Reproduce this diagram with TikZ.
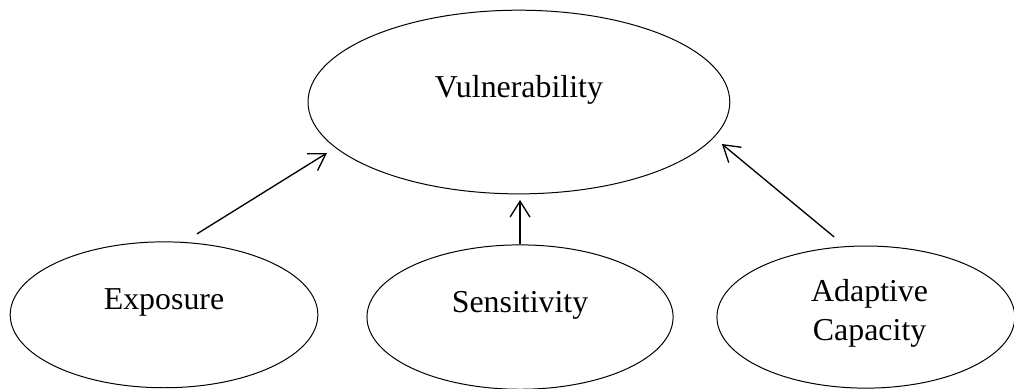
\documentclass[tikz,border=0pt]{standalone}
\usepackage{fontspec}
\setmainfont{Liberation Serif}
\usetikzlibrary{shapes.geometric, arrows.meta}

\begin{document}
\begin{tikzpicture}[
    every node/.style={font=\fontsize{24}{29}\selectfont},
    blob/.style={draw, ellipse, line width=0.75pt, inner sep=0pt},
    feed/.style={line width=1pt, -{Straight Barb[length=12pt, width=15pt, line width=1pt]}}
  ]
        \useasboundingbox (0, 0) rectangle (26.83, 10.29);

        % 1. TOP ELLIPSE
        \node[blob, minimum width=11.16cm, minimum height=4.86cm,
              label={[yshift=0.32cm]center:Vulnerability}] (vul) at (13.73, 7.59) {};

        % 2. THE THREE DRIVERS (bottom row)
        \node[blob, minimum width=8.14cm, minimum height=3.86cm,
              label={[yshift=0.32cm]center:Exposure}] (expo) at (4.34, 1.96) {};
        \node[blob, minimum width=8.10cm, minimum height=3.82cm,
              label={[yshift=0.32cm]center:Sensitivity}] (sens) at (13.76, 1.90) {};
        \node[blob, minimum width=7.88cm, minimum height=3.76cm,
              label={[xshift=0.1cm, yshift=0.1cm, align=center]center:Adaptive\\Capacity}] (adap) at (22.91, 1.90) {};

        % 3. ARROWS (free ends do not touch the ellipses)
        \coordinate (expoOut) at (5.21, 4.10);
        \coordinate (vulInL) at (8.65, 6.24);
        \coordinate (vulInM) at (13.76, 5.00);
        \coordinate (adapOut) at (22.07, 4.02);
        \coordinate (vulInR) at (19.10, 6.48);

        \draw[feed] (expoOut) -- (vulInL);
        \draw[feed] (sens.north) -- (vulInM);
        \draw[feed] (adapOut) -- (vulInR);

\end{tikzpicture}
\end{document}
